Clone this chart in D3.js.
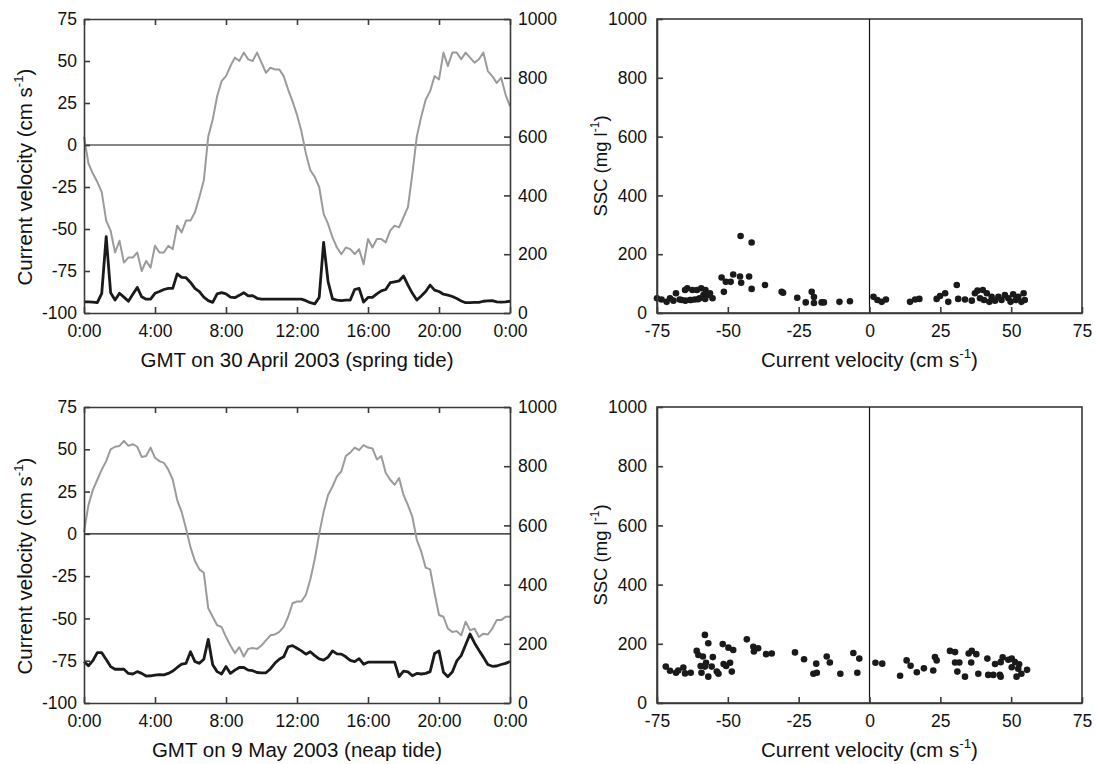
<!DOCTYPE html>
<html><head><meta charset="utf-8">
<script src="https://cdn.jsdelivr.net/npm/d3@7"></script>
<style>body{margin:0;background:#fff}svg{font-family:"Liberation Sans",Arial,sans-serif}</style>
</head><body><svg id="c" width="1096" height="764"></svg>
<script>
// ---- data ----
const hourTicks = [0, 4, 8, 12, 16, 20, 24];
const hourTickLabels = ["0:00", "4:00", "8:00", "12:00", "16:00", "20:00", "0:00"];
const velTicks = [-100, -75, -50, -25, 0, 25, 50, 75];
const sscTicks = [0, 200, 400, 600, 800, 1000];
const velXTicks = [-75, -50, -25, 0, 25, 50, 75];
const sampleStepHours = 0.25;

// spring tide, 30 April 2003 (15-min samples)
const springVelocity = [5,-11,-17,-22,-28,-45,-51,-64,-57,-70,-67,-67,-64,-75,-69,-73,-60,-64,-64,-60,-62,-48,-52,-45,-45,-40,-31,-21,5,15,29,38,41,47,52,50,55,51,50,55,49,43,46,45,45,41,33,26,18,8,-5,-15,-19,-25,-41,-47,-55,-61,-65,-61,-62,-65,-62,-71,-56,-61,-56,-56,-58,-51,-48,-49,-43,-37,-17,5,17,27,32,41,39,55,47,55,55,51,55,52,49,51,55,44,41,37,40,30,23];
const springSSC = [38,38,37,35,67,260,69,44,67,54,40,64,87,55,47,47,67,73,80,84,84,133,121,120,104,84,73,54,42,36,65,69,65,54,52,60,69,58,59,50,47,47,47,47,47,47,47,47,47,47,42,35,31,53,240,107,48,44,42,44,44,80,84,37,53,53,65,75,80,103,106,109,126,95,67,44,58,73,95,78,73,64,61,56,49,41,35,35,36,36,40,41,42,38,37,38,40];

// neap tide, 9 May 2003 (15-min samples)
const neapVelocity = [1,17,26,32,38,43,50,51.5,52,55,52,53,51.5,45.5,46,51,45,43,42,38,32,20,13,3,-8,-16,-21,-23,-44,-49,-54,-55,-61,-66,-70.5,-67,-72.5,-68,-67.5,-68,-66,-63,-60,-59.5,-58,-55,-49,-41,-40,-40,-36,-27,-15,0,13,23,28,34,37,46,48,51,49.5,52.5,51,50.5,44,46,36,32,29,33,23,17,10,-3.5,-10.5,-20,-21,-35,-48,-49,-56,-58,-57.5,-60,-52,-57,-56,-61,-59,-59.5,-56,-51,-51,-49,-49];
const neapSSC = [140,126,143,170,170,147,123,114,114,114,100,98,106,100,91,92,94,96,95,100,108,120,131,134,173,140,134,148,215,129,106,98,123,100,111,120,120,111,109,103,102,102,115,134,148,156,190,194,185,176,165,173,160,149,145,155,176,166,165,156,144,140,150,131,138,138,138,138,138,138,138,89,108,105,92,100,98,100,106,167,176,104,89,105,142,160,197,233,203,178,155,130,124,125,130,134,140];

// scatter: spring tide (velocity, SSC)
const springScatterVel = [-75,-73.4,-71.6,-70.4,-69.2,-68.3,-66.3,-65.1,-64.3,-63.4,-62.5,-61.7,-60.9,-60,-59.4,-58.6,-57.9,-57.1,-56.3,-55.4,-67,-65,-63,-60.5,-58,-52.2,-51.4,-50.7,-49,-48.1,-45.7,-45.5,-45.3,-42.5,-41.6,-41.6,-36.9,-31,-30.5,-25.5,-22.5,-20.4,-19.6,-19.6,-16.9,-16.1,-10.6,-6.9,1.4,2.8,4.3,5.8,14.3,16.1,17.6,23.7,24.9,26.7,27.8,30.8,31.3,33.7,36.1,37.2,38.1,39,40,40.4,41.4,42.3,43.1,44.3,45.5,46.6,47.8,49,49.8,50.7,51.6,52.5,53.6,54.4,54.8];
const springScatterSSC = [50,46,38,50,42,67,44,78,84,44,78,46,78,50,84,61,78,61,67,50,46,42,44,47,48,121,72,106,106,131,124,262,103,124,240,82,95,72,69,52,36,72,54,34,36,36,38,40,55,44,38,46,38,46,48,48,58,67,38,95,48,46,42,67,76,50,78,44,67,38,55,42,55,44,61,50,38,64,44,55,38,67,44];

// scatter: neap tide (velocity, SSC)
const neapScatterVel = [-71.9,-70.4,-68.3,-67.5,-65.7,-65.1,-63.1,-61,-60.4,-59.6,-59.3,-58.8,-58.1,-57.7,-56.9,-58.1,-56.9,-55.7,-55.3,-53.9,-53.3,-51.8,-51.5,-50.6,-49.8,-49.2,-48.6,-48.1,-43.3,-41,-40.8,-39.3,-36.5,-34.5,-26.3,-23.1,-19.8,-18.6,-18.8,-15.1,-14,-10.3,-5.7,-4.3,-3.6,2.1,4.5,10.8,13.1,14.5,16.7,19.2,22.5,23.1,23.7,28.4,30.2,30.2,31.7,31,33.7,35,35.9,36.1,37.7,38.4,41.6,41.9,43.7,44.3,46,46.3,47,49,50.2,50.2,51.4,51.9,52.5,52.8,53.6,55.6,46.3];
const neapScatterSSC = [123,109,102,110,120,100,102,176,162,125,102,157,230,136,202,123,89,123,155,106,99,199,132,125,187,136,106,179,215,190,174,185,165,167,171,148,99,102,133,157,137,99,169,102,150,136,133,92,144,126,104,117,110,155,144,176,172,137,137,106,89,167,137,176,165,99,150,95,95,132,95,138,154,146,121,150,138,89,116,131,99,112,89];

// ---- drawing ----
const svg = d3.select("#c");
const FONT = '"Liberation Sans", Arial, sans-serif';
const AXIS_COLOR = "#3a3a3a";
const TICK_FS = 17.5, LABEL_FS = 20.5;
const fmt = d => String(d);

function styleAxis(g) {
  g.attr("font-size", TICK_FS).attr("font-family", FONT);
  g.selectAll("path.domain").attr("stroke", AXIS_COLOR).attr("stroke-width", 1.6);
  g.selectAll(".tick line").attr("stroke", AXIS_COLOR).attr("stroke-width", 1.6);
  g.selectAll(".tick text").attr("fill", "#111");
}

function supLabel(sel, pre, sup, post, fs) {
  sel.append("tspan").text(pre);
  sel.append("tspan").attr("font-size", fs * 0.65).attr("dy", -fs * 0.42).text(sup);
  sel.append("tspan").attr("dy", fs * 0.42).text(post);
}

function timePanel(top, bottom, vel, ssc, xlabel) {
  const L = 84, R = 510;
  const hours = vel.map((d, i) => i * sampleStepHours);
  const x = d3.scaleLinear().domain([0, 24]).range([L, R]);
  const yL = d3.scaleLinear().domain([-100, 75]).range([bottom, top]);
  const yR = d3.scaleLinear().domain([0, 1000]).range([bottom, top]);
  const g = svg.append("g");

  g.append("line").attr("x1", L).attr("x2", R).attr("y1", yL(0)).attr("y2", yL(0))
    .attr("stroke", "#111").attr("stroke-width", 1.2);

  g.append("path").datum(vel.map((v, i) => [hours[i], v]))
    .attr("fill", "none").attr("stroke", "#9b9b9b").attr("stroke-width", 2)
    .attr("stroke-linejoin", "round")
    .attr("d", d3.line().x(d => x(d[0])).y(d => yL(d[1])));
  g.append("path").datum(ssc.map((v, i) => [hours[i], v]))
    .attr("fill", "none").attr("stroke", "#1a1a1a").attr("stroke-width", 2.8)
    .attr("stroke-linejoin", "round")
    .attr("d", d3.line().x(d => x(d[0])).y(d => yR(d[1])));

  const ax = g.append("g").attr("transform", `translate(0,${bottom})`)
    .call(d3.axisBottom(x).tickValues(hourTicks).tickSize(-6).tickSizeOuter(0).tickPadding(12)
      .tickFormat((d, i) => hourTickLabels[i]));
  styleAxis(ax);
  const axT = g.append("g").attr("transform", `translate(0,${top})`)
    .call(d3.axisTop(x).tickValues(hourTicks).tickSize(-6).tickSizeOuter(0).tickFormat(""));
  styleAxis(axT);
  const ayL = g.append("g").attr("transform", `translate(${L},0)`)
    .call(d3.axisLeft(yL).tickValues(velTicks).tickSize(-6).tickSizeOuter(0).tickPadding(7).tickFormat(fmt));
  styleAxis(ayL);
  const ayR = g.append("g").attr("transform", `translate(${R},0)`)
    .call(d3.axisRight(yR).tickValues(sscTicks).tickSize(-6).tickSizeOuter(0).tickPadding(8).tickFormat(fmt));
  styleAxis(ayR);

  g.append("text").attr("x", (L + R) / 2).attr("y", bottom + 53.5).attr("text-anchor", "middle")
    .attr("font-size", LABEL_FS).attr("fill", "#111").text(xlabel);
  const yl = g.append("text").attr("transform", `translate(32,${(top + bottom) / 2 + 11}) rotate(-90)`)
    .attr("text-anchor", "middle").attr("font-size", LABEL_FS).attr("fill", "#111");
  supLabel(yl, "Current velocity (cm s", "-1", ")", LABEL_FS);
}

function scatterPanel(top, bottom, xs, ys) {
  const L = 657, R = 1082;
  const x = d3.scaleLinear().domain([-75, 75]).range([L, R]);
  const y = d3.scaleLinear().domain([0, 1000]).range([bottom, top]);
  const g = svg.append("g");

  g.append("rect").attr("x", L).attr("y", top).attr("width", R - L).attr("height", bottom - top)
    .attr("fill", "none").attr("stroke", AXIS_COLOR).attr("stroke-width", 1.6);
  g.append("line").attr("x1", x(0)).attr("x2", x(0)).attr("y1", top).attr("y2", bottom)
    .attr("stroke", "#111").attr("stroke-width", 1.2);

  g.selectAll("circle").data(xs.map((v, i) => [v, ys[i]])).join("circle")
    .attr("cx", d => x(d[0])).attr("cy", d => y(d[1])).attr("r", 3.3).attr("fill", "#1a1a1a");

  const ax = g.append("g").attr("transform", `translate(0,${bottom})`)
    .call(d3.axisBottom(x).tickValues(velXTicks).tickSize(-6).tickSizeOuter(0).tickPadding(12).tickFormat(fmt));
  styleAxis(ax);
  const ay = g.append("g").attr("transform", `translate(${L},0)`)
    .call(d3.axisLeft(y).tickValues(sscTicks).tickSize(-6).tickSizeOuter(0).tickPadding(10).tickFormat(fmt));
  styleAxis(ay);

  const xl = g.append("text").attr("x", (L + R) / 2).attr("y", bottom + 53.5).attr("text-anchor", "middle")
    .attr("font-size", LABEL_FS).attr("fill", "#111");
  supLabel(xl, "Current velocity (cm s", "-1", ")", LABEL_FS);
  const yl = g.append("text").attr("transform", `translate(607,${(top + bottom) / 2}) rotate(-90)`)
    .attr("text-anchor", "middle").attr("font-size", 18.5).attr("fill", "#111");
  supLabel(yl, "SSC (mg l", "-1", ")", 18.5);
}

timePanel(19, 313, springVelocity, springSSC, "GMT on 30 April 2003 (spring tide)");
timePanel(407, 703, neapVelocity, neapSSC, "GMT on 9 May 2003 (neap tide)");
scatterPanel(19, 313, springScatterVel, springScatterSSC);
scatterPanel(407, 703, neapScatterVel, neapScatterSSC);
</script></body></html>
